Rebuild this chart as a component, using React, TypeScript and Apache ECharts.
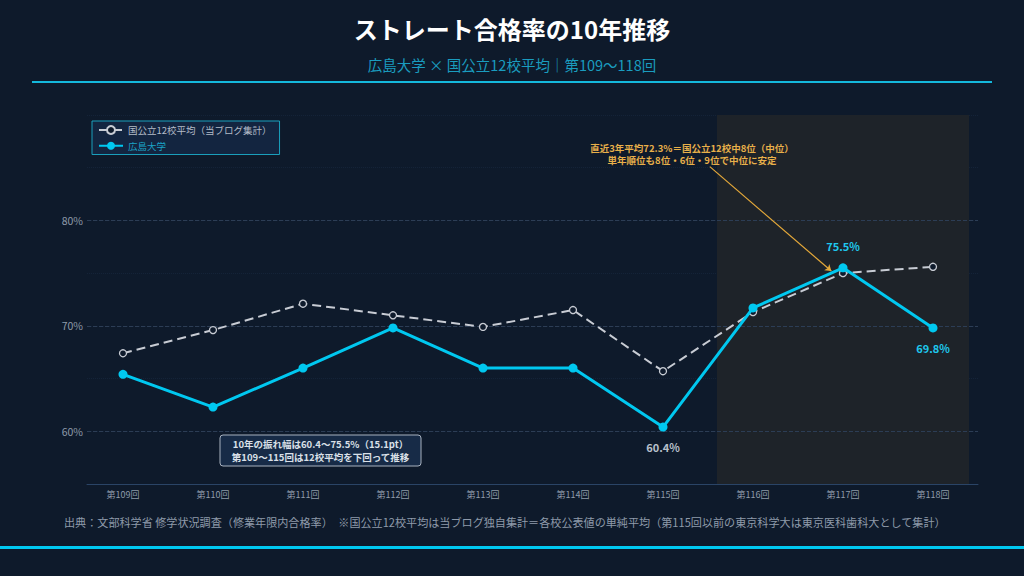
import React, { useEffect, useRef } from "react";
import * as echarts from "echarts";

const categories = ["第109回", "第110回", "第111回", "第112回", "第113回", "第114回", "第115回", "第116回", "第117回", "第118回"];
const hiroshima = [65.4, 62.3, 66.0, 69.8, 66.0, 66.0, 60.4, 71.7, 75.5, 69.8];
const average12 = [67.4, 69.6, 72.1, 71.0, 69.9, 71.5, 65.7, 71.3, 75.0, 75.6];
const majorTicks = [60, 70, 80];
const labeledPoints: Record<number, string> = { 6: "#b8c0cc", 8: "#1ec8ee", 9: "#1ec8ee" };
const labelAbove: Record<number, boolean> = { 8: true };

const FONT = "'Noto Sans CJK JP', 'Noto Sans', sans-serif";
const Y_MIN = 55;
const Y_MAX = 90;

export default function App() {
  const ref = useRef<HTMLDivElement>(null);
  useEffect(() => {
    document.body.style.margin = "0";
    document.body.style.background = "#0e1a2b";
    const chart = echarts.init(ref.current!, null, { renderer: "svg" });
    const hiroData = hiroshima.map((v, i) =>
      labeledPoints[i]
        ? {
            value: v,
            label: {
              show: true,
              position: labelAbove[i] ? "top" : "bottom",
              distance: labelAbove[i] ? 12 : 10,
              formatter: "{c}%",
              color: labeledPoints[i],
              fontWeight: "bold",
              fontSize: 11,
              fontFamily: FONT,
            },
          }
        : v
    );
    chart.setOption({
      animation: false,
      backgroundColor: "#0e1a2b",
      textStyle: { fontFamily: FONT },
      title: [
        {
          text: "ストレート合格率の10年推移",
          left: "center",
          top: 11,
          textStyle: { color: "#ffffff", fontSize: 24, fontWeight: "bold", fontFamily: FONT },
        },
        {
          text: "広島大学 × 国公立12校平均｜第109〜118回",
          left: "center",
          top: 52,
          textStyle: { color: "#1a9cbf", fontSize: 14.5, fontWeight: "normal", fontFamily: FONT },
        },
      ],
      legend: {
        left: 92,
        top: 121,
        orient: "vertical",
        itemGap: 6,
        itemWidth: 24,
        itemHeight: 10,
        padding: [4, 8, 4, 6],
        backgroundColor: "#132540",
        borderColor: "#1a9fbc",
        borderWidth: 1,
        data: [
          { name: "国公立12校平均（当ブログ集計）", textStyle: { color: "#b4bcc8" } },
          { name: "広島大学", textStyle: { color: "#1ba3c6" } },
        ],
        textStyle: { fontSize: 9.5, fontFamily: FONT },
      },
      grid: [
        { left: 87, right: 46, top: 115, bottom: 92 },
        { left: 78, right: 46, top: 115, bottom: 92 },
      ],
      xAxis: [
        {
          gridIndex: 0,
          type: "category",
          data: categories,
          axisLine: { lineStyle: { color: "#2a4466" } },
          axisTick: { show: false },
          axisLabel: { show: false },
          splitLine: { show: false },
        },
        {
          gridIndex: 1,
          type: "category",
          data: categories,
          boundaryGap: true,
          axisLine: { show: false },
          axisTick: { show: false },
          axisLabel: { color: "#8e9aaa", fontSize: 9, margin: 6 },
          splitLine: { show: false },
        },
        { gridIndex: 1, type: "value", min: -0.5, max: 9.5, show: false },
      ],
      yAxis: [
        {
          gridIndex: 0,
          type: "value",
          min: Y_MIN,
          max: Y_MAX,
          interval: 5,
          axisLine: { show: false },
          axisTick: { show: false },
          axisLabel: {
            color: "#8e9aaa",
            fontSize: 10.5,
            margin: 4,
            formatter: (v: number) => (majorTicks.indexOf(v) >= 0 ? v + "%" : ""),
          },
          splitLine: { lineStyle: { color: "#142338", type: "dotted", width: 1 } },
        },
        { gridIndex: 1, type: "value", min: Y_MIN, max: Y_MAX, show: false },
      ],
      series: [
        {
          name: "grid",
          type: "line",
          xAxisIndex: 0,
          yAxisIndex: 0,
          data: [],
          silent: true,
          z: 1,
          markLine: {
            silent: true,
            z: 1,
            symbol: ["none", "none"],
            label: { show: false },
            lineStyle: { color: "#2c3d55", type: "dashed", width: 1 },
            data: majorTicks.map((t) => ({ yAxis: t })),
          },
        },
        {
          name: "shade",
          type: "line",
          xAxisIndex: 2,
          yAxisIndex: 1,
          data: [],
          silent: true,
          z: 0,
          markArea: {
            silent: true,
            z: 0,
            itemStyle: { color: "#1e2329" },
            data: [[{ coord: [6.6, Y_MAX] }, { coord: [9.4, Y_MIN] }]],
          },
          markLine: {
            silent: true,
            z: 2,
            symbol: ["none", "arrow"],
            symbolSize: 6,
            label: { show: false },
            lineStyle: { color: "#e5a93a", width: 1.2, type: "solid" },
            data: [[{ coord: [6.52, 85.1] }, { coord: [7.87, 75.2] }]],
          },
        },
        {
          name: "国公立12校平均（当ブログ集計）",
          type: "line",
          xAxisIndex: 1,
          yAxisIndex: 1,
          data: average12,
          symbol: "circle",
          symbolSize: 7,
          z: 3,
          lineStyle: { color: "#c8ccd4", width: 2, type: [9, 5] },
          itemStyle: { color: "#0e1a2b", borderColor: "#c8ccd4", borderWidth: 1.3 },
        },
        {
          name: "広島大学",
          type: "line",
          xAxisIndex: 1,
          yAxisIndex: 1,
          data: hiroData,
          symbol: "circle",
          symbolSize: 9,
          z: 4,
          lineStyle: { color: "#00c8f0", width: 3 },
          itemStyle: { color: "#00c8f0" },
        },
      ],
      graphic: [
        { type: "rect", z: 100, shape: { x: 32, y: 81, width: 960, height: 2 }, style: { fill: "#14b8dc" } },
        { type: "rect", z: 100, shape: { x: 0, y: 546, width: 1024, height: 3 }, style: { fill: "#00c8f0" } },
        {
          type: "text",
          z: 100,
          x: 692,
          y: 142,
          style: {
            text: "直近3年平均72.3%＝国公立12校中8位（中位）\n単年順位も8位・6位・9位で中位に安定",
            fill: "#e8b04a",
            fontSize: 9.5,
            fontWeight: "bold",
            fontFamily: FONT,
            align: "center",
            lineHeight: 12,
          },
        },
        {
          type: "group",
          z: 100,
          children: [
            {
              type: "rect",
              shape: { x: 220, y: 435, width: 201, height: 31, r: 3 },
              style: { fill: "#172b47", stroke: "#a8b2c0", lineWidth: 1 },
            },
            {
              type: "text",
              x: 320.5,
              y: 438,
              style: {
                text: "10年の振れ幅は60.4〜75.5%（15.1pt）\n第109〜115回は12校平均を下回って推移",
                fill: "#dae0e8",
                fontSize: 9.5,
                fontWeight: "bold",
                fontFamily: FONT,
                align: "center",
                lineHeight: 12.5,
              },
            },
          ],
        },
        {
          type: "text",
          z: 100,
          x: 64,
          y: 516,
          style: {
            text: "出典：文部科学省 修学状況調査（修業年限内合格率）　※国公立12校平均は当ブログ独自集計＝各校公表値の単純平均（第115回以前の東京科学大は東京医科歯科大として集計）",
            fill: "#8e9aaa",
            fontSize: 11.1,
            fontFamily: FONT,
          },
        },
      ],
    });
    return () => chart.dispose();
  }, []);
  return <div ref={ref} style={{ width: 1024, height: 576 }} />;
}
